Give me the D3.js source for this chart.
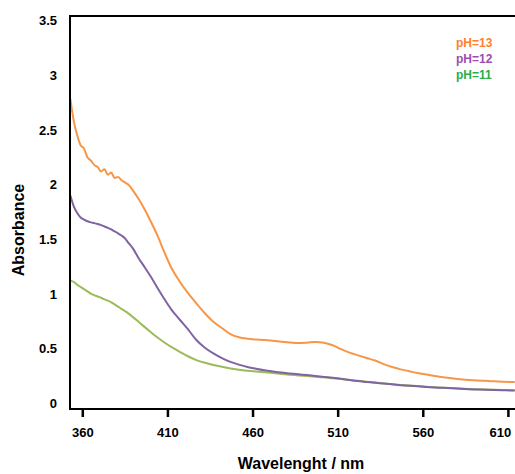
<!DOCTYPE html>
<html>
<head>
<meta charset="utf-8">
<script src="https://cdn.jsdelivr.net/npm/d3@7"></script>
<style>
  body { margin: 0; background: #fff; }
  text { font-family: "Liberation Sans", Arial, sans-serif; font-weight: bold; }
</style>
</head>
<body>
<svg id="canvas" width="515" height="474"></svg>
<script>
let wavelengths = [353, 355, 357, 359, 361, 363, 365, 367, 369, 371, 373, 375, 377, 379, 381, 383, 385, 387, 390, 393, 396, 400, 404, 408, 412, 417, 422, 427, 432, 437, 442, 447, 452, 457, 462, 467, 472, 477, 482, 487, 492, 497, 502, 507, 512, 517, 522, 527, 532, 537, 542, 547, 552, 557, 562, 567, 572, 577, 582, 587, 592, 597, 602, 607, 612, 614];

let ph13 = [2.78, 2.58, 2.45, 2.36, 2.33, 2.25, 2.22, 2.18, 2.16, 2.12, 2.14, 2.09, 2.11, 2.06, 2.07, 2.04, 2.02, 2.00, 1.94, 1.87, 1.79, 1.67, 1.54, 1.39, 1.25, 1.12, 1.01, 0.915, 0.825, 0.747, 0.69, 0.635, 0.605, 0.592, 0.585, 0.58, 0.573, 0.565, 0.558, 0.552, 0.556, 0.562, 0.555, 0.532, 0.497, 0.465, 0.44, 0.416, 0.393, 0.36, 0.333, 0.312, 0.295, 0.278, 0.265, 0.252, 0.24, 0.23, 0.222, 0.215, 0.21, 0.207, 0.203, 0.2, 0.197, 0.196];

let ph12 = [1.90, 1.80, 1.74, 1.70, 1.68, 1.665, 1.655, 1.648, 1.64, 1.63, 1.617, 1.605, 1.59, 1.572, 1.555, 1.535, 1.51, 1.47, 1.41, 1.33, 1.26, 1.165, 1.06, 0.96, 0.865, 0.77, 0.68, 0.58, 0.51, 0.458, 0.415, 0.38, 0.355, 0.334, 0.318, 0.304, 0.293, 0.283, 0.275, 0.267, 0.26, 0.252, 0.243, 0.235, 0.226, 0.215, 0.205, 0.197, 0.189, 0.182, 0.175, 0.168, 0.162, 0.157, 0.152, 0.147, 0.143, 0.139, 0.135, 0.131, 0.128, 0.126, 0.124, 0.122, 0.12, 0.12];

let ph11 = [1.125, 1.11, 1.085, 1.065, 1.045, 1.025, 1.005, 0.99, 0.978, 0.966, 0.952, 0.94, 0.925, 0.905, 0.885, 0.865, 0.845, 0.824, 0.787, 0.747, 0.707, 0.655, 0.605, 0.56, 0.52, 0.475, 0.432, 0.397, 0.372, 0.352, 0.335, 0.32, 0.309, 0.3, 0.292, 0.285, 0.279, 0.27, 0.263, 0.257, 0.251, 0.245, 0.239, 0.231, 0.223, 0.214, 0.207, 0.199, 0.191, 0.184, 0.177, 0.17, 0.164, 0.159, 0.154, 0.149, 0.145, 0.141, 0.137, 0.133, 0.13, 0.128, 0.126, 0.124, 0.122, 0.122];

let seriesNames = ['pH=13', 'pH=12', 'pH=11'];
let xTicks = [360, 410, 460, 510, 560, 610];
let yTicks = [0, 0.5, 1, 1.5, 2, 2.5, 3, 3.5];

let lineColors = ['#f79646', '#8064a2', '#9bbb59'];
let labelColors = ['#ff7f2a', '#9b4db0', '#2bae4a'];

let canvas = d3.select('#canvas');

let xScale = d3.scaleLinear().domain([360, 610]).range([82.3, 507.9]);
let yScale = d3.scaleLinear().domain([-0.05, 3.54]).range([409, 16]);

let plotLeft = 70, plotRight = 515, plotTop = 16, plotBottom = 409;

// curves
let allSeries = [ph13, ph12, ph11];
let line = d3.line()
  .x((d, i) => xScale(wavelengths[i]))
  .y(d => yScale(d))
  .curve(d3.curveMonotoneX);

canvas.append('defs').append('clipPath').attr('id', 'clip')
  .append('rect').attr('x', plotLeft).attr('y', plotTop)
  .attr('width', plotRight - plotLeft).attr('height', plotBottom - plotTop);

canvas.append('g').attr('clip-path', 'url(#clip)')
  .selectAll('path')
  .data(allSeries.slice().reverse())
  .enter()
  .append('path')
  .attr('d', d => line(d))
  .attr('fill', 'none')
  .attr('stroke', (d, i) => lineColors[2 - i])
  .attr('stroke-width', 2)
  .attr('stroke-linejoin', 'round');

// frame: left, top, bottom
canvas.append('path')
  .attr('d', 'M' + plotRight + ',' + plotTop + 'H' + plotLeft + 'V' + plotBottom + 'H' + plotRight)
  .attr('fill', 'none')
  .attr('stroke', '#000')
  .attr('stroke-width', 2);

// x ticks
let xAxis = d3.axisBottom(xScale).tickValues(xTicks).tickSize(8).tickSizeOuter(0).tickPadding(11);
let gx = canvas.append('g').attr('transform', 'translate(0,' + plotBottom + ')').call(xAxis);
gx.select('.domain').remove();
gx.selectAll('line').attr('stroke', '#000').attr('stroke-width', 2.5);
gx.selectAll('text').attr('fill', '#000').style('font-size', '13px')
  .style('font-family', '"Liberation Sans", Arial, sans-serif').style('font-weight', 'bold')
  .attr('dx', d => d === 610 ? -8 : 0);

// y labels
let yAxis = d3.axisLeft(yScale).tickValues(yTicks).tickSize(0).tickPadding(13).tickFormat(d => String(d));
let gy = canvas.append('g').attr('transform', 'translate(' + plotLeft + ',0)').call(yAxis);
gy.select('.domain').remove();
gy.selectAll('text').attr('fill', '#000').style('font-size', '13px')
  .style('font-family', '"Liberation Sans", Arial, sans-serif').style('font-weight', 'bold');

// titles
canvas.append('text')
  .attr('x', 301).attr('y', 469)
  .attr('text-anchor', 'middle')
  .style('font-size', '16px')
  .text('Wavelenght / nm');

canvas.append('text')
  .attr('transform', 'translate(24,230) rotate(-90)')
  .attr('text-anchor', 'middle')
  .style('font-size', '16px')
  .text('Absorbance');

// legend
canvas.selectAll('.legend')
  .data(seriesNames)
  .enter()
  .append('text')
  .attr('class', 'legend')
  .attr('x', 456)
  .attr('y', (d, i) => 47 + i * 16)
  .attr('fill', (d, i) => labelColors[i])
  .style('font-size', '12px')
  .text(d => d);
</script>
</body>
</html>
